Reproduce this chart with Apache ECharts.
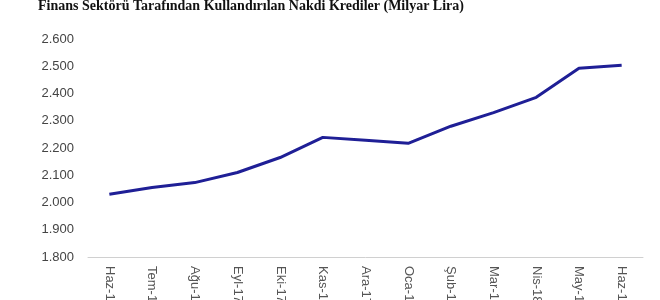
<!DOCTYPE html>
<html><head><meta charset="utf-8">
<script src="https://cdn.jsdelivr.net/npm/echarts@6/dist/echarts.min.js"></script>
<style>html,body{margin:0;padding:0;background:#fff}#c{width:660px;height:300px}</style>
</head><body><div id="c"></div>
<script>
const titleText = 'Finans Sektörü Tarafından Kullandırılan Nakdi Krediler (Milyar Lira)';
const categories = ['Haz-17','Tem-17','Ağu-17','Eyl-17','Eki-17','Kas-17','Ara-17','Oca-18','Şub-18','Mar-18','Nis-18','May-18','Haz-18'];
const credits = [2030, 2055, 2073, 2110, 2165, 2239, 2228, 2217, 2280, 2330, 2386, 2493, 2504];
const yMin = 1800, yMax = 2600, yStep = 100;

const chart = echarts.init(document.getElementById('c'), null, {renderer:'canvas'});
chart.setOption({
  animation: false,
  backgroundColor: '#fff',
  title: {
    text: titleText, left: 246, textAlign: 'center', top: -6,
    textStyle: {fontFamily: '"Liberation Serif", serif', fontWeight: 'bold', fontSize: 14, color: '#111'}
  },
  grid: {left: 88, right: 17, top: 39, bottom: 43, outerBoundsMode: 'none', containLabel: false},
  xAxis: {
    type: 'category', data: categories, boundaryGap: true,
    axisLine: {lineStyle: {color: '#d0d0d0'}},
    axisTick: {show: false},
    axisLabel: {rotate: -90, margin: 9, interval: 0, color: '#555', fontFamily: '"Liberation Sans", Arial', fontSize: 13}
  },
  yAxis: {
    type: 'value', min: yMin, max: yMax, interval: yStep,
    axisLine: {show: false}, axisTick: {show: false}, splitLine: {show: false},
    axisLabel: {margin: 14, color: '#444', fontFamily: '"Liberation Sans", Arial', fontSize: 13,
      formatter: v => (v/1000).toFixed(3)}
  },
  series: [{
    type: 'line', data: credits, symbol: 'none',
    lineStyle: {color: '#1f1f96', width: 3}
  }]
});
</script></body></html>
